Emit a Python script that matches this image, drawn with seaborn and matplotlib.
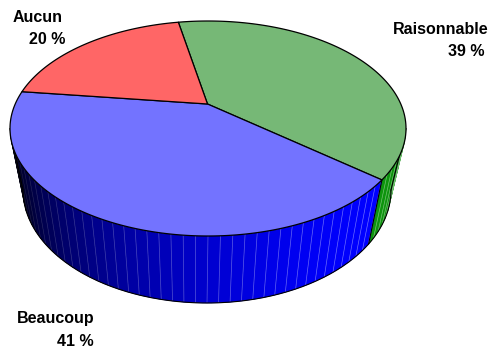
import numpy as np
import matplotlib
matplotlib.use("Agg")
import matplotlib.pyplot as plt
from matplotlib.patches import Polygon
import seaborn as sns

categories = ["Raisonnable", "Beaucoup", "Aucun"]
shares = [39, 41, 20]
percent_labels = ["39 %", "41 %", "20 %"]
top_colors = ["#76B876", "#7373FF", "#FF6666"]
side_rgb = [(0.05, 0.58, 0.05), (0.0, 0.0, 1.0), (1.0, 0.0, 0.0)]

sns.set_theme(style="white")
plt.rcParams["font.family"] = ["Liberation Sans", "DejaVu Sans"]

W, H = 489, 351
fig = plt.figure(figsize=(W / 100, H / 100), dpi=100)
ax = fig.add_axes([0, 0, 1, 1])
ax.set_xlim(0, W)
ax.set_ylim(H, 0)
ax.axis("off")

# projection of the disc: top face, bottom face, wedge apex
cx, cy, rx, ry = 208.0, 128.5, 198.0, 107.5
bx, by, brx, bry = 207.0, 190.0, 184.0, 113.0
apex = (207.5, 104.0)
start_deg = -100.85

p = (apex[1] - cy) / ry
amag = (1 - np.sqrt(1 - p**2)) / p      # Klein -> Poincare offset
a = 1j * amag


def rim(theta_deg):
    z = np.exp(1j * np.radians(theta_deg))
    return (z + a) / (1 + np.conj(a) * z)


def top_xy(w):
    return cx + rx * np.real(w), cy + ry * np.imag(w)


fractions = np.array(shares, dtype=float) / np.sum(shares)
edges = start_deg + 360 * np.concatenate([[0], np.cumsum(fractions)])
edge_phi = [np.degrees(np.angle(rim(e))) % 360 for e in edges]


def shade(phi):
    return np.clip(np.cos(np.radians((phi - 30) * 0.6)), 0.03, 1.0)


def side_quad(p0, p1):
    c0, s0 = np.cos(np.radians(p0)), np.sin(np.radians(p0))
    c1, s1 = np.cos(np.radians(p1)), np.sin(np.radians(p1))
    return [(cx + rx * c0, cy + ry * s0), (cx + rx * c1, cy + ry * s1),
            (bx + brx * c1, by + bry * s1), (bx + brx * c0, by + bry * s0)]


# side wall, in facets
step = 3.6
for i in range(len(shares)):
    lo, hi = edge_phi[i], edge_phi[i + 1]
    if hi < lo:
        hi += 360
    lo2, hi2 = max(lo, 0.0), min(hi, 180.0)
    if i == 0:
        lo2, hi2 = 0.0, edge_phi[1]
    if hi2 <= lo2:
        continue
    grid = np.unique(np.concatenate([[lo2, hi2], np.arange(0, 180.01, step)]))
    grid = grid[(grid >= lo2) & (grid <= hi2)]
    base = np.array(side_rgb[i])
    for g0, g1 in zip(grid[:-1], grid[1:]):
        col = base * shade((g0 + g1) / 2)
        ax.add_patch(Polygon(side_quad(g0, g1), closed=True, facecolor=col,
                             edgecolor=col, lw=0.4, zorder=2))
    for g in grid[1:-1]:
        q = side_quad(g, g)
        s = shade(g)
        seam = base * s + (1 - base * s) * 0.5 * s
        ax.plot([q[0][0], q[3][0]], [q[0][1], q[3][1]], color=seam, lw=0.5,
                alpha=0.8, zorder=3, solid_capstyle="butt")

# side outline
phi = np.radians(np.linspace(0, 180, 200))
ax.plot(bx + brx * np.cos(phi), by + bry * np.sin(phi), color="black", lw=0.8, zorder=4)
for ang in (0, 180):
    q = side_quad(ang, ang)
    ax.plot([q[0][0], q[3][0]], [q[0][1], q[3][1]], color="black", lw=0.8, zorder=4)
q = side_quad(edge_phi[1], edge_phi[1])
ax.plot([q[0][0], q[3][0]], [q[0][1], q[3][1]], color="black", lw=0.8, zorder=4)

# top face wedges
for i in range(len(shares)):
    t = np.linspace(edges[i], edges[i + 1], 240)
    xs, ys = top_xy(rim(t))
    pts = [apex] + list(zip(xs, ys))
    ax.add_patch(Polygon(pts, closed=True, facecolor=top_colors[i], edgecolor="black",
                         lw=0.9, joinstyle="round", zorder=5))

# labels
label_pos = {"Raisonnable": (489, 29, 485, 52),
             "Beaucoup": (95, 318, 94, 342),
             "Aucun": (63, 17, 65, 39)}
for name, pct in zip(categories, percent_labels):
    x1, y1, x2, y2 = label_pos[name]
    ax.text(x1, y1, name, ha="right", va="center", fontsize=11.5, fontweight="bold",
            color="black", zorder=6)
    ax.text(x2, y2, pct, ha="right", va="center", fontsize=11.5, fontweight="bold",
            color="black", zorder=6)

fig.savefig("out.png", dpi=100, facecolor="white")
